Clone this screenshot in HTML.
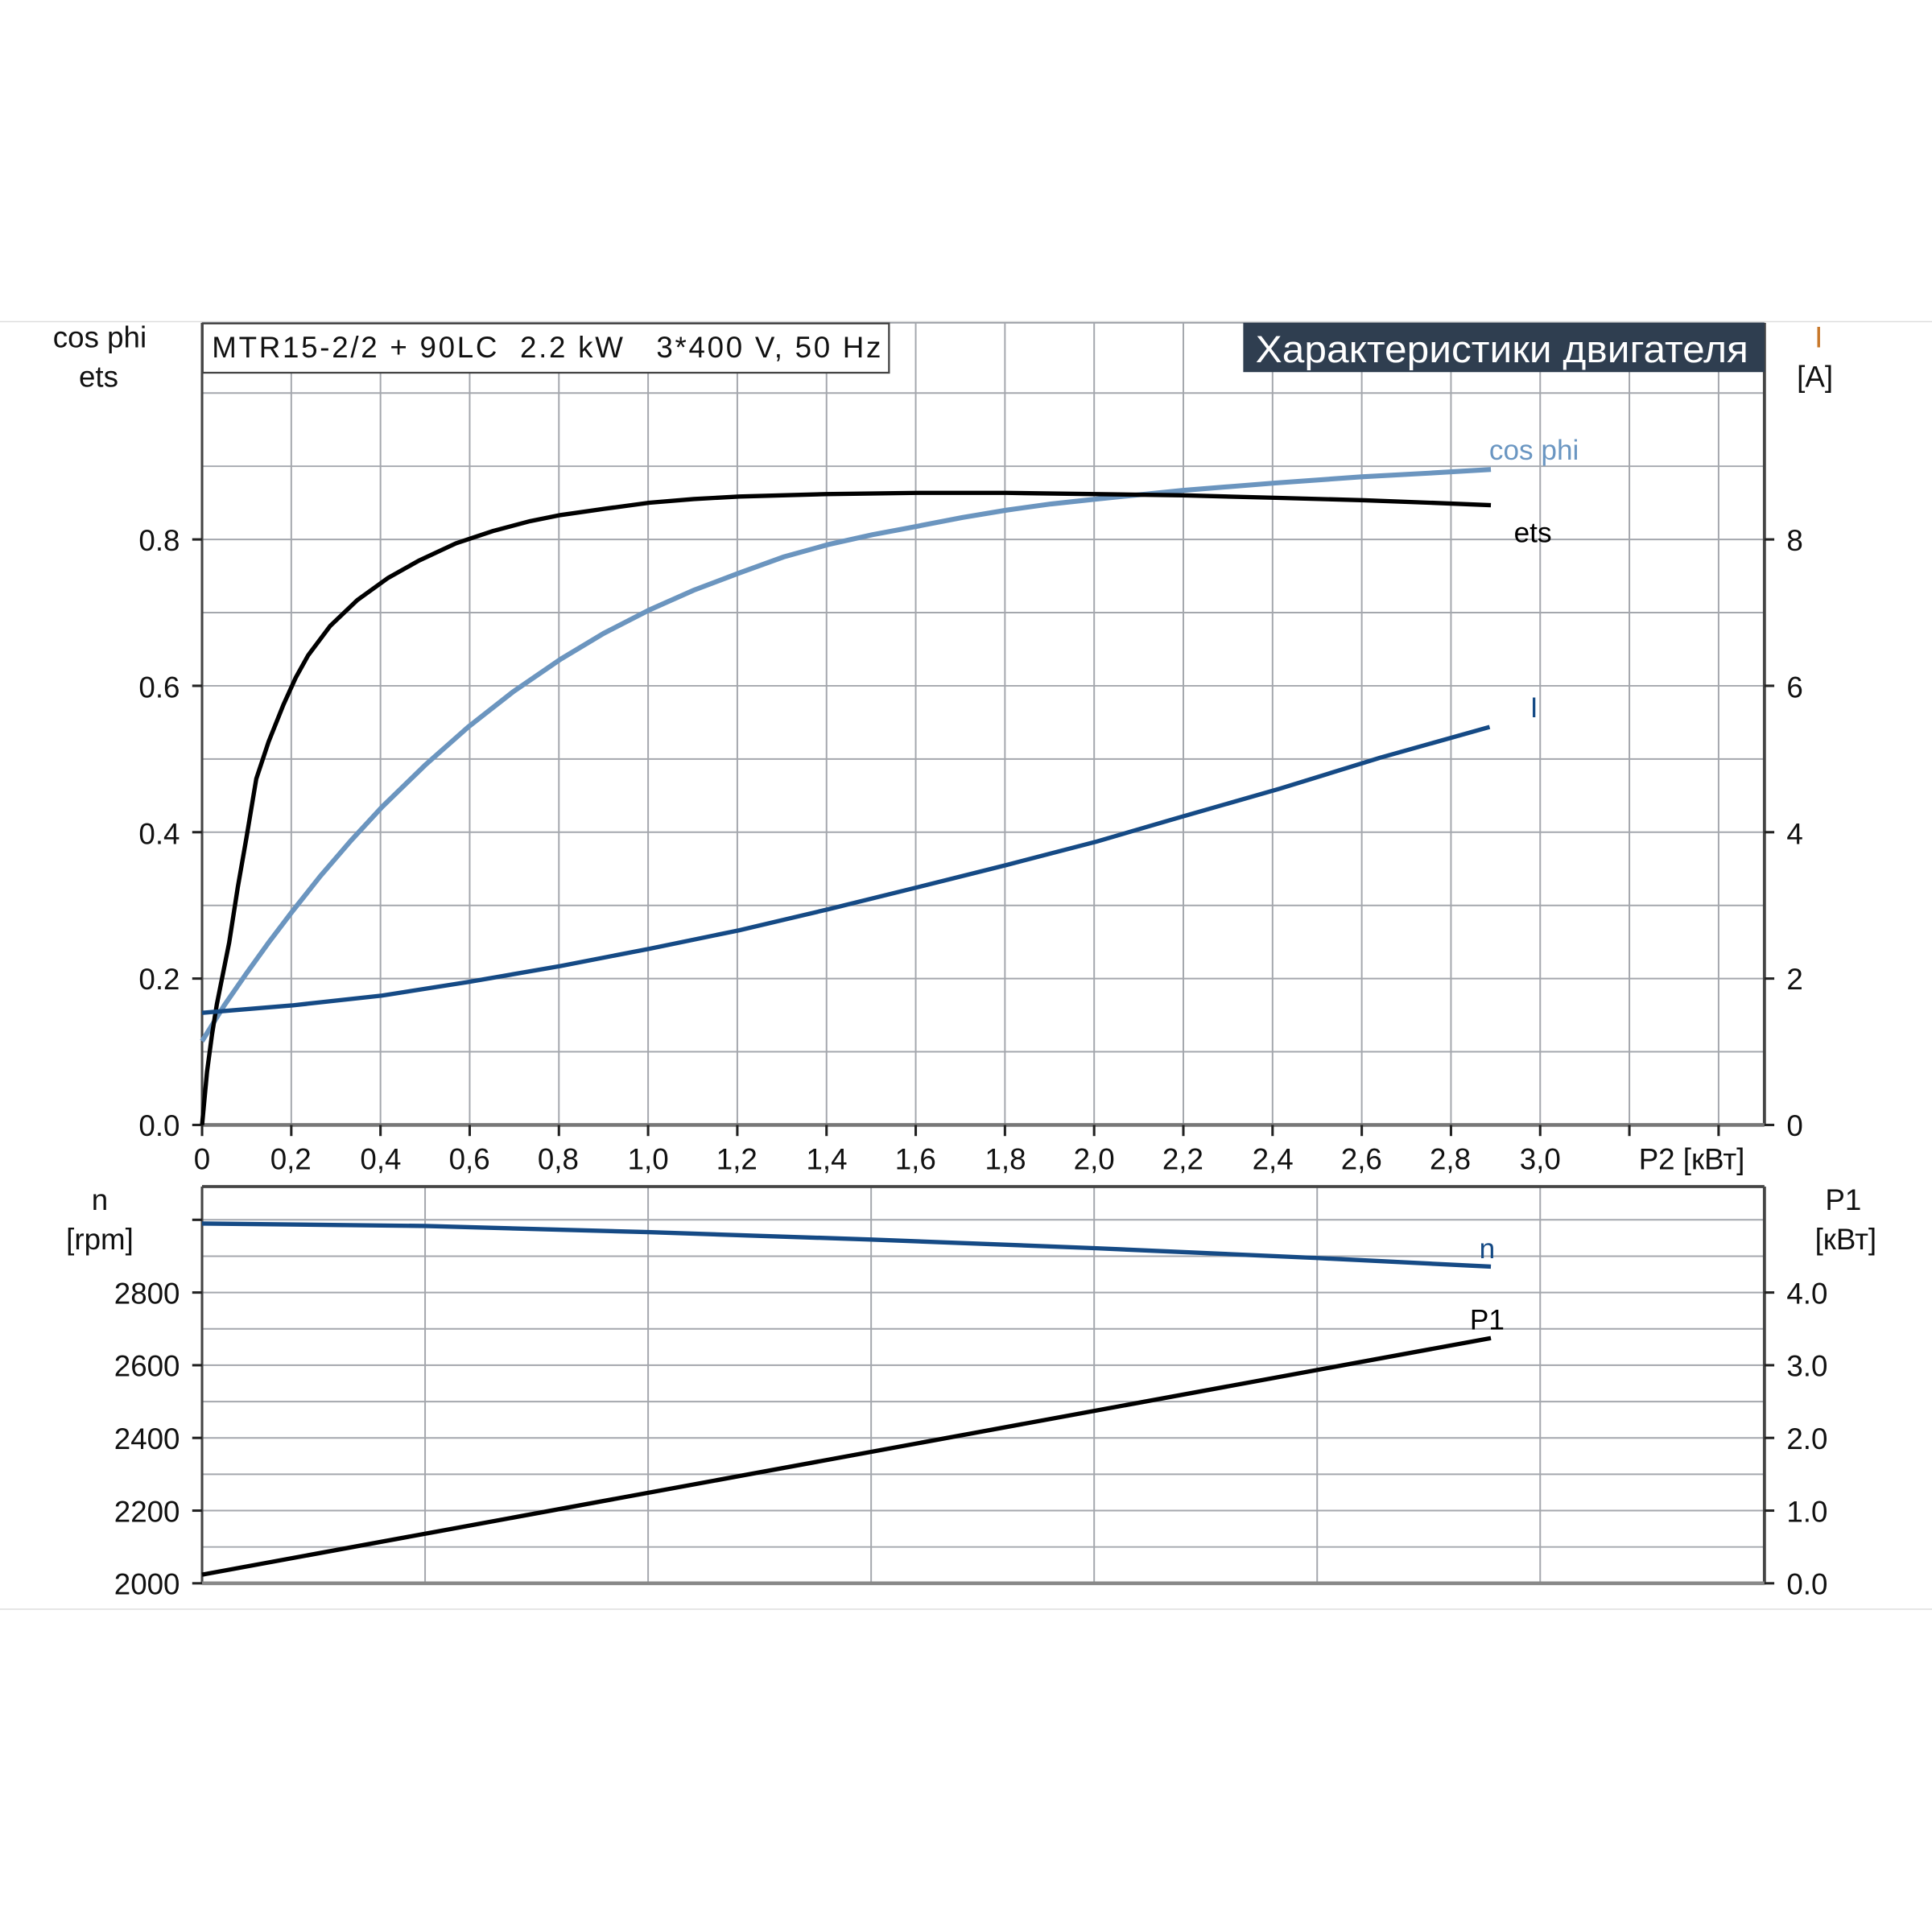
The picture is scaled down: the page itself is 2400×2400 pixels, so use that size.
<!DOCTYPE html>
<html><head><meta charset="utf-8"><style>
html,body{margin:0;padding:0;background:#fff}
svg{display:block}
text{font-family:"Liberation Sans","DejaVu Sans",sans-serif}
</style></head><body>
<svg width="2400" height="2400" viewBox="0 0 1568 1568" xmlns="http://www.w3.org/2000/svg">
<rect width="1568" height="1568" fill="#fff"/>
<line x1="0" y1="261" x2="1568" y2="261" stroke="#ddd" stroke-width="1"/>
<line x1="0" y1="1306" x2="1568" y2="1306" stroke="#ddd" stroke-width="1"/>
<g stroke="#a4a7ad" stroke-width="1.3">
<line x1="164" y1="853.6" x2="1432" y2="853.6"/><line x1="164" y1="794.2" x2="1432" y2="794.2"/>
<line x1="164" y1="734.8" x2="1432" y2="734.8"/><line x1="164" y1="675.4" x2="1432" y2="675.4"/>
<line x1="164" y1="616" x2="1432" y2="616"/><line x1="164" y1="556.6" x2="1432" y2="556.6"/>
<line x1="164" y1="497.2" x2="1432" y2="497.2"/><line x1="164" y1="437.8" x2="1432" y2="437.8"/>
<line x1="164" y1="378.4" x2="1432" y2="378.4"/><line x1="164" y1="319" x2="1432" y2="319"/>
<line x1="236.4" y1="262" x2="236.4" y2="913"/><line x1="308.8" y1="262" x2="308.8" y2="913"/>
<line x1="381.2" y1="262" x2="381.2" y2="913"/><line x1="453.6" y1="262" x2="453.6" y2="913"/>
<line x1="526" y1="262" x2="526" y2="913"/><line x1="598.4" y1="262" x2="598.4" y2="913"/>
<line x1="670.8" y1="262" x2="670.8" y2="913"/><line x1="743.2" y1="262" x2="743.2" y2="913"/>
<line x1="815.6" y1="262" x2="815.6" y2="913"/><line x1="888" y1="262" x2="888" y2="913"/>
<line x1="960.4" y1="262" x2="960.4" y2="913"/><line x1="1032.8" y1="262" x2="1032.8" y2="913"/>
<line x1="1105.2" y1="262" x2="1105.2" y2="913"/><line x1="1177.6" y1="262" x2="1177.6" y2="913"/>
<line x1="1250" y1="262" x2="1250" y2="913"/><line x1="1322.4" y1="262" x2="1322.4" y2="913"/>
<line x1="1394.8" y1="262" x2="1394.8" y2="913"/>
<line x1="164" y1="262" x2="1432" y2="262"/>
</g>
<line x1="164" y1="262" x2="164" y2="914" stroke="#444" stroke-width="2"/>
<line x1="1432" y1="262" x2="1432" y2="914" stroke="#444" stroke-width="2.5"/>
<line x1="164" y1="913" x2="1432" y2="913" stroke="#777" stroke-width="3"/>
<g stroke="#222" stroke-width="2">
<line x1="156" y1="913" x2="164" y2="913"/><line x1="156" y1="794.2" x2="164" y2="794.2"/>
<line x1="156" y1="675.4" x2="164" y2="675.4"/><line x1="156" y1="556.6" x2="164" y2="556.6"/>
<line x1="156" y1="437.8" x2="164" y2="437.8"/>
<line x1="1432" y1="913" x2="1440" y2="913"/><line x1="1432" y1="794.2" x2="1440" y2="794.2"/>
<line x1="1432" y1="675.4" x2="1440" y2="675.4"/><line x1="1432" y1="556.6" x2="1440" y2="556.6"/>
<line x1="1432" y1="437.8" x2="1440" y2="437.8"/>
<line x1="164" y1="913" x2="164" y2="922"/><line x1="236.4" y1="913" x2="236.4" y2="922"/>
<line x1="308.8" y1="913" x2="308.8" y2="922"/><line x1="381.2" y1="913" x2="381.2" y2="922"/>
<line x1="453.6" y1="913" x2="453.6" y2="922"/><line x1="526" y1="913" x2="526" y2="922"/>
<line x1="598.4" y1="913" x2="598.4" y2="922"/><line x1="670.8" y1="913" x2="670.8" y2="922"/>
<line x1="743.2" y1="913" x2="743.2" y2="922"/><line x1="815.6" y1="913" x2="815.6" y2="922"/>
<line x1="888" y1="913" x2="888" y2="922"/><line x1="960.4" y1="913" x2="960.4" y2="922"/>
<line x1="1032.8" y1="913" x2="1032.8" y2="922"/><line x1="1105.2" y1="913" x2="1105.2" y2="922"/>
<line x1="1177.6" y1="913" x2="1177.6" y2="922"/><line x1="1250" y1="913" x2="1250" y2="922"/>
<line x1="1322.4" y1="913" x2="1322.4" y2="922"/><line x1="1394.8" y1="913" x2="1394.8" y2="922"/>
</g>
<rect x="164.5" y="262.5" width="557" height="40" fill="#fff" stroke="#444" stroke-width="1.5"/>
<text x="172" y="290" font-size="24" fill="#111" xml:space="preserve" style="white-space:pre" textLength="543" lengthAdjust="spacing">MTR15-2/2 + 90LC  2.2 kW   3*400 V, 50 Hz</text>
<rect x="1009" y="262" width="423" height="40" fill="#2f3e50"/>
<text x="1019" y="294" font-size="31" fill="#fff" textLength="400" lengthAdjust="spacingAndGlyphs">Характеристики двигателя</text>
<g font-size="24" fill="#111">
<text x="81" y="282" text-anchor="middle">cos phi</text>
<text x="80" y="314" text-anchor="middle">ets</text>
<text x="1476" y="282" text-anchor="middle" fill="#c8782a">I</text>
<text x="1473" y="314" text-anchor="middle">[A]</text>
<g text-anchor="end">
<text x="146" y="922">0.0</text><text x="146" y="803">0.2</text><text x="146" y="685">0.4</text>
<text x="146" y="566">0.6</text><text x="146" y="447">0.8</text>
</g>
<text x="1450" y="922">0</text><text x="1450" y="803">2</text><text x="1450" y="685">4</text>
<text x="1450" y="566">6</text><text x="1450" y="447">8</text>
<g text-anchor="middle">
<text x="164" y="949">0</text><text x="236" y="949">0,2</text><text x="309" y="949">0,4</text>
<text x="381" y="949">0,6</text><text x="453" y="949">0,8</text><text x="526" y="949">1,0</text>
<text x="598" y="949">1,2</text><text x="671" y="949">1,4</text><text x="743" y="949">1,6</text>
<text x="816" y="949">1,8</text><text x="888" y="949">2,0</text><text x="960" y="949">2,2</text>
<text x="1033" y="949">2,4</text><text x="1105" y="949">2,6</text><text x="1177" y="949">2,8</text>
<text x="1250" y="949">3,0</text><text x="1373" y="949">P2 [кВт]</text>
</g>
</g>
<polyline fill="none" stroke="#6b95bf" stroke-width="4" points="164,845 182,816 200,790 218,765 237,740 260,711 285,682 310,655 345,621 380,590 417,561 455,535 490,514 527,495 563,479 600,465 636,452 672,442 708,434 745,427 781,420 817,414 853,409 890,405 960,398 1035,392 1105,387 1160,384 1210,381"/>
<polyline fill="none" stroke="#000" stroke-width="3.5" points="164,913 168,870 172,840 176,815 180,795 186,765 193,720 200,680 208,632 218,602 230,572 240,550 250,532 268,508 290,487 315,469 340,455 370,441 400,431 430,423 455,418 490,413 527,408 563,405 600,403 670,401 745,400 817,400 890,401 960,402 1035,404 1107,406 1160,408 1210,410"/>
<polyline fill="none" stroke="#154a85" stroke-width="3.5" points="164,822 237,816 310,808 380,797 455,784 527,770 600,755 672,738 745,720 817,702 890,683 962,662 1039,640 1120,615 1209,590"/>
<text x="1245" y="373" font-size="23" fill="#6a96c2" text-anchor="middle">cos phi</text>
<text x="1244" y="440" font-size="23" fill="#000" text-anchor="middle">ets</text>
<text x="1245" y="582" font-size="23" fill="#154a85" text-anchor="middle">I</text>
<g stroke="#a4a7ad" stroke-width="1.3">
<line x1="164" y1="1255.5" x2="1432" y2="1255.5"/><line x1="164" y1="1226" x2="1432" y2="1226"/>
<line x1="164" y1="1196.5" x2="1432" y2="1196.5"/><line x1="164" y1="1167" x2="1432" y2="1167"/>
<line x1="164" y1="1137.5" x2="1432" y2="1137.5"/><line x1="164" y1="1108" x2="1432" y2="1108"/>
<line x1="164" y1="1078.5" x2="1432" y2="1078.5"/><line x1="164" y1="1049" x2="1432" y2="1049"/>
<line x1="164" y1="1019.5" x2="1432" y2="1019.5"/><line x1="164" y1="990" x2="1432" y2="990"/>
<line x1="345" y1="963" x2="345" y2="1285"/><line x1="526" y1="963" x2="526" y2="1285"/>
<line x1="707" y1="963" x2="707" y2="1285"/><line x1="888" y1="963" x2="888" y2="1285"/>
<line x1="1069" y1="963" x2="1069" y2="1285"/><line x1="1250" y1="963" x2="1250" y2="1285"/>
</g>
<line x1="164" y1="963" x2="1432" y2="963" stroke="#444" stroke-width="2.5"/>
<line x1="164" y1="963" x2="164" y2="1286" stroke="#444" stroke-width="2"/>
<line x1="1432" y1="963" x2="1432" y2="1286" stroke="#444" stroke-width="2.5"/>
<line x1="164" y1="1285" x2="1432" y2="1285" stroke="#888" stroke-width="3"/>
<g stroke="#222" stroke-width="2">
<line x1="156" y1="990" x2="164" y2="990"/><line x1="156" y1="1049" x2="164" y2="1049"/>
<line x1="156" y1="1108" x2="164" y2="1108"/><line x1="156" y1="1167" x2="164" y2="1167"/>
<line x1="156" y1="1226" x2="164" y2="1226"/><line x1="156" y1="1285" x2="164" y2="1285"/>
<line x1="1432" y1="1049" x2="1440" y2="1049"/><line x1="1432" y1="1108" x2="1440" y2="1108"/>
<line x1="1432" y1="1167" x2="1440" y2="1167"/><line x1="1432" y1="1226" x2="1440" y2="1226"/>
<line x1="1432" y1="1285" x2="1440" y2="1285"/>
</g>
<g font-size="24" fill="#111">
<text x="81" y="982" text-anchor="middle">n</text>
<text x="81" y="1014" text-anchor="middle">[rpm]</text>
<text x="1496" y="982" text-anchor="middle">P1</text>
<text x="1498" y="1014" text-anchor="middle">[кВт]</text>
<g text-anchor="end">
<text x="146" y="1058">2800</text><text x="146" y="1117">2600</text><text x="146" y="1176">2400</text>
<text x="146" y="1235">2200</text><text x="146" y="1294">2000</text>
</g>
<text x="1450" y="1058">4.0</text><text x="1450" y="1117">3.0</text><text x="1450" y="1176">2.0</text>
<text x="1450" y="1235">1.0</text><text x="1450" y="1294">0.0</text>
</g>
<polyline fill="none" stroke="#154a85" stroke-width="3.5" points="164,993 345,995 526,1000 707,1006 888,1013 1069,1021 1210,1028"/>
<polyline fill="none" stroke="#000" stroke-width="3.5" points="164,1278 1210,1086"/>
<text x="1207" y="1021" font-size="23" fill="#154a85" text-anchor="middle">n</text>
<text x="1207" y="1079" font-size="23" fill="#000" text-anchor="middle">P1</text>
</svg>
</body></html>
